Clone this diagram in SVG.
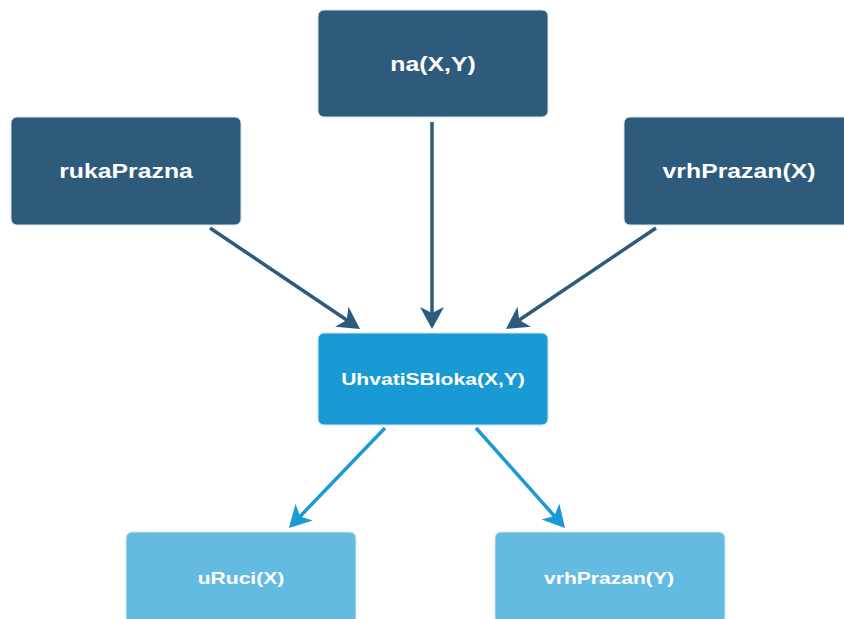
<svg xmlns="http://www.w3.org/2000/svg" width="844" height="619" viewBox="0 0 844 619">
<style>
  .box { stroke: #d6e2ea; stroke-width: 1; }
  .dark { fill: #2e5b7c; }
  .mid { fill: #1a9ad5; }
  .light { fill: #64bbe2; }
  .lbl { fill: #ffffff; font-family: "Liberation Sans", Arial, sans-serif; font-weight: bold; text-anchor: middle; }
  .big { font-size: 20px; }
  .small { font-size: 17px; }
  .edge { fill: none; stroke-width: 3.5; }
  .edark { stroke: #2e5b7c; }
  .emid { stroke: #1a9ad5; }
</style>
<defs>
  <marker id="ahDark" markerUnits="userSpaceOnUse" markerWidth="24" markerHeight="24" refX="14" refY="12" orient="auto">
    <path d="M0,0 L22,12 L0,24 L6,12 Z" fill="#2e5b7c"/>
  </marker>
  <marker id="ahMid" markerUnits="userSpaceOnUse" markerWidth="24" markerHeight="24" refX="14" refY="12" orient="auto">
    <path d="M0,0 L22,12 L0,24 L6,12 Z" fill="#1a9ad5"/>
  </marker>
</defs>
<rect width="844" height="619" fill="#ffffff"/>
<g id="connectors">
  <line class="edge edark" x1="210" y1="228" x2="353.4" y2="324.5" marker-end="url(#ahDark)"/>
  <line class="edge edark" x1="432" y1="122" x2="432" y2="321" marker-end="url(#ahDark)"/>
  <line class="edge edark" x1="656" y1="228" x2="512.6" y2="324.5" marker-end="url(#ahDark)"/>
  <line class="edge emid" x1="385" y1="428" x2="294.5" y2="522.2" marker-end="url(#ahMid)"/>
  <line class="edge emid" x1="476" y1="428" x2="559.7" y2="522" marker-end="url(#ahMid)"/>
</g>
<g id="node-na">
  <rect class="box dark" x="318" y="10" width="230" height="107" rx="6"/>
  <text class="lbl big" transform="translate(433,63.5) scale(1.24,1)" dy="0.35em">na(X,Y)</text>
</g>
<g id="node-rukaPrazna">
  <rect class="box dark" x="11" y="117" width="230" height="108" rx="6"/>
  <text class="lbl big" transform="translate(126,171) scale(1.24,1)" dy="0.35em">rukaPrazna</text>
</g>
<g id="node-vrhPrazanX">
  <rect class="box dark" x="624" y="117" width="230" height="108" rx="6"/>
  <text class="lbl big" transform="translate(739,171) scale(1.24,1)" dy="0.35em">vrhPrazan(X)</text>
</g>
<g id="node-uhvati">
  <rect class="box mid" x="318" y="333" width="230" height="92" rx="6"/>
  <text class="lbl small" transform="translate(433,379) scale(1.24,1)" dy="0.35em">UhvatiSBloka(X,Y)</text>
</g>
<g id="node-uRuci">
  <rect class="box light" x="126" y="532" width="230" height="92" rx="6"/>
  <text class="lbl small" transform="translate(241,578) scale(1.24,1)" dy="0.35em">uRuci(X)</text>
</g>
<g id="node-vrhPrazanY">
  <rect class="box light" x="495" y="532" width="230" height="92" rx="6"/>
  <text class="lbl small" transform="translate(609,578) scale(1.24,1)" dy="0.35em">vrhPrazan(Y)</text>
</g>
</svg>
